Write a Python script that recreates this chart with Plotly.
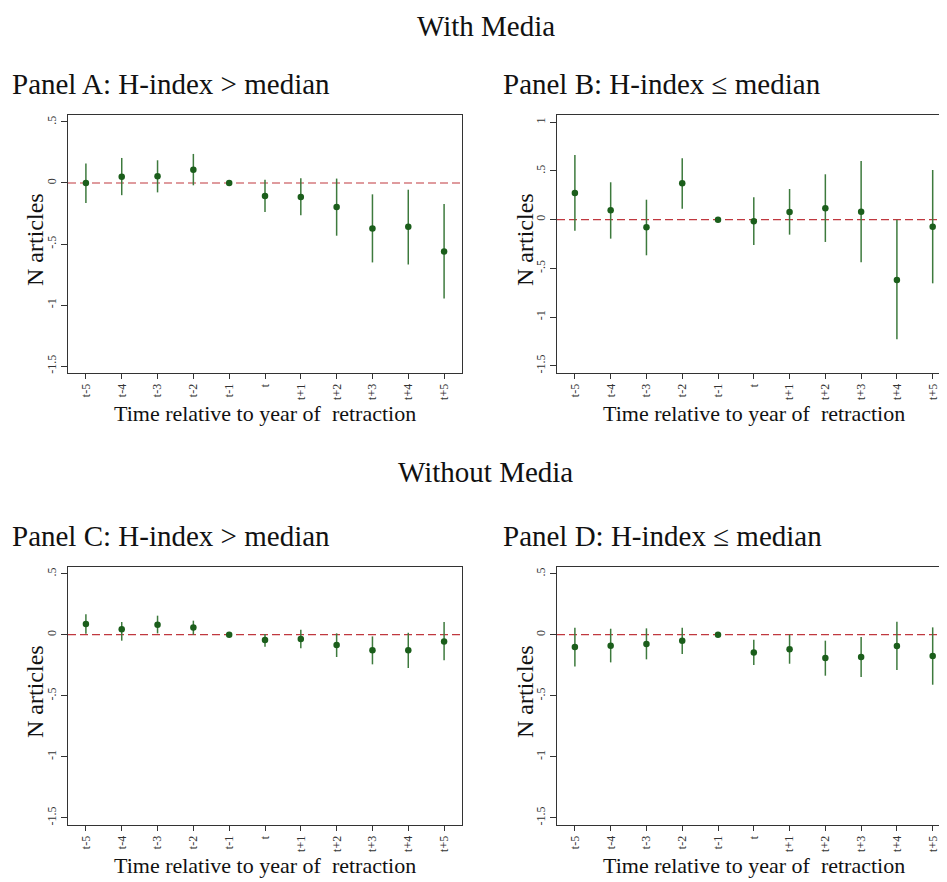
import plotly.graph_objects as go

# page body has an 8px margin, so the figure is shrunk by that much
OFF = 8
W, H = 947 - OFF, 882 - OFF

periods = ["t-5", "t-4", "t-3", "t-2", "t-1", "t", "t+1", "t+2", "t+3", "t+4", "t+5"]

# Panel A: with media, H-index > median
a_coef = [0.0, 0.052, 0.055, 0.109, 0.0, -0.107, -0.115, -0.197, -0.372, -0.358, -0.561]
a_lo = [-0.165, -0.10, -0.077, -0.019, 0.0, -0.238, -0.265, -0.432, -0.651, -0.668, -0.947]
a_hi = [0.16, 0.205, 0.186, 0.238, 0.0, 0.027, 0.038, 0.036, -0.093, -0.055, -0.172]

# Panel B: with media, H-index <= median
b_coef = [0.274, 0.096, -0.079, 0.373, 0.0, -0.017, 0.079, 0.116, 0.082, -0.620, -0.072]
b_lo = [-0.113, -0.195, -0.366, 0.113, 0.0, -0.260, -0.154, -0.229, -0.438, -1.229, -0.654]
b_hi = [0.664, 0.384, 0.205, 0.630, 0.0, 0.229, 0.315, 0.466, 0.603, 0.0, 0.510]

# Panel C: without media, H-index > median
c_coef = [0.087, 0.044, 0.082, 0.060, 0.0, -0.044, -0.036, -0.085, -0.128, -0.128, -0.055]
c_lo = [0.008, -0.049, 0.011, 0.0, 0.0, -0.098, -0.112, -0.183, -0.243, -0.273, -0.210]
c_hi = [0.167, 0.104, 0.156, 0.115, 0.0, 0.005, 0.041, 0.011, -0.014, 0.016, 0.104]

# Panel D: without media, H-index <= median
d_coef = [-0.101, -0.090, -0.077, -0.049, 0.0, -0.145, -0.120, -0.191, -0.183, -0.093, -0.175]
d_lo = [-0.260, -0.227, -0.202, -0.158, 0.0, -0.249, -0.238, -0.336, -0.347, -0.290, -0.410]
d_hi = [0.057, 0.049, 0.052, 0.057, 0.0, -0.041, 0.0, -0.049, -0.019, 0.107, 0.060]

yticks_small = [0.5, 0, -0.5, -1, -1.5]
ylabels_small = [".5", "0", "-.5", "-1", "-1.5"]
yticks_big = [1, 0.5, 0, -0.5, -1, -1.5]
ylabels_big = ["1", ".5", "0", "-.5", "-1", "-1.5"]

titles = ["Panel A: H-index > median", "Panel B: H-index \u2264 median",
          "Panel C: H-index > median", "Panel D: H-index \u2264 median"]

FONT = "Liberation Serif"
GREEN = "#1b5e1b"
AXIS = "#333333"


# window pixel -> paper fraction
def px_x(v):
    return (v - OFF) / W


def px_y(v):
    return 1 - (v - OFF) / H


# plot boxes in window pixels: left, right, top, bottom
panels = [
    dict(coef=a_coef, lo=a_lo, hi=a_hi, box=(68, 462, 115, 373), yr=[-1.557, 0.557],
         tv=yticks_small, tt=ylabels_small, xr=[-0.5, 10.5], mirror_y=True,
         title_x=10, title_y=84, xt_x=265, yt_x=35),
    dict(coef=b_coef, lo=b_lo, hi=b_hi, box=(557, 947, 115, 373), yr=[-1.575, 1.075],
         tv=yticks_big, tt=ylabels_big, xr=[-0.5, 10.4], mirror_y=False,
         title_x=501, title_y=84, xt_x=754, yt_x=525),
    dict(coef=c_coef, lo=c_lo, hi=c_hi, box=(68, 462, 567, 825), yr=[-1.56, 0.555],
         tv=yticks_small, tt=ylabels_small, xr=[-0.5, 10.5], mirror_y=True,
         title_x=10, title_y=536, xt_x=265, yt_x=35),
    dict(coef=d_coef, lo=d_lo, hi=d_hi, box=(557, 947, 567, 825), yr=[-1.56, 0.555],
         tv=yticks_small, tt=ylabels_small, xr=[-0.5, 10.4], mirror_y=False,
         title_x=501, title_y=536, xt_x=754, yt_x=525),
]

fig = go.Figure()
layout = dict(
    width=W, height=H,
    margin=dict(l=0, r=0, t=0, b=0),
    paper_bgcolor="white", plot_bgcolor="white",
    showlegend=False,
    font=dict(family=FONT, color="#111111"),
)
shapes = []
annotations = [
    dict(text="With Media", x=px_x(486), y=1, xref="paper", yref="paper",
         xanchor="center", yanchor="top", showarrow=False,
         font=dict(size=29, family=FONT, color="#111111")),
    dict(text="Without Media", x=px_x(485), y=px_y(472), xref="paper", yref="paper",
         xanchor="center", yanchor="middle", showarrow=False,
         font=dict(size=29, family=FONT, color="#111111")),
]

for i, p in enumerate(panels, start=1):
    sfx = "" if i == 1 else str(i)
    l, r, t, b = p["box"]
    err_up = [h - c for h, c in zip(p["hi"], p["coef"])]
    err_dn = [c - lo for c, lo in zip(p["coef"], p["lo"])]
    fig.add_trace(go.Scatter(
        x=periods, y=p["coef"], mode="markers",
        marker=dict(color=GREEN, size=6.5),
        error_y=dict(type="data", array=err_up, arrayminus=err_dn,
                     color="#3d7a3d", thickness=1.5, width=0),
        xaxis="x" + sfx, yaxis="y" + sfx,
        hovertemplate="%{x}: %{y:.3f}<extra></extra>",
    ))

    layout["xaxis" + sfx] = dict(
        domain=[px_x(l), px_x(r)], anchor="y" + sfx,
        type="category", categoryorder="array", categoryarray=periods,
        range=p["xr"], showgrid=False, zeroline=False,
        showline=True, linecolor=AXIS, linewidth=1, mirror=True,
        ticks="outside", ticklen=5, tickcolor=AXIS, tickangle=-90,
        tickfont=dict(size=12, family=FONT, color="#333333"),
    )
    layout["yaxis" + sfx] = dict(
        domain=[px_y(b), px_y(t)], anchor="x" + sfx,
        range=p["yr"], showgrid=False, zeroline=False,
        showline=True, linecolor=AXIS, linewidth=1, mirror=p["mirror_y"],
        ticks="outside", ticklen=6, tickcolor=AXIS, tickangle=-90,
        tickvals=p["tv"], ticktext=p["tt"],
        tickfont=dict(size=12, family=FONT, color="#333333"),
    )

    # dashed reference line at zero
    shapes.append(dict(
        type="line", xref="x" + sfx + " domain", yref="y" + sfx,
        x0=0, x1=1, y0=0, y1=0, layer="below",
        line=dict(color="#c0383f", width=1.2, dash="8px,4px"),
    ))

    annotations.append(dict(
        text=titles[i - 1], x=px_x(p["title_x"]), y=px_y(p["title_y"]),
        xref="paper", yref="paper", xanchor="left", yanchor="middle", showarrow=False,
        font=dict(size=29, family=FONT, color="#111111"),
    ))
    annotations.append(dict(
        text="Time relative to year of  retraction", x=px_x(p["xt_x"]), y=px_y(b + 40),
        xref="paper", yref="paper", xanchor="center", yanchor="middle", showarrow=False,
        font=dict(size=22, family=FONT, color="#111111"),
    ))
    annotations.append(dict(
        text="N articles", x=px_x(p["yt_x"]), y=px_y((t + b) / 2 - 4),
        xref="paper", yref="paper", xanchor="center", yanchor="middle", showarrow=False,
        textangle=-90, font=dict(size=24, family=FONT, color="#111111"),
    ))

layout["shapes"] = shapes
layout["annotations"] = annotations
fig.update_layout(**layout)

fig.write_html("out.html")
